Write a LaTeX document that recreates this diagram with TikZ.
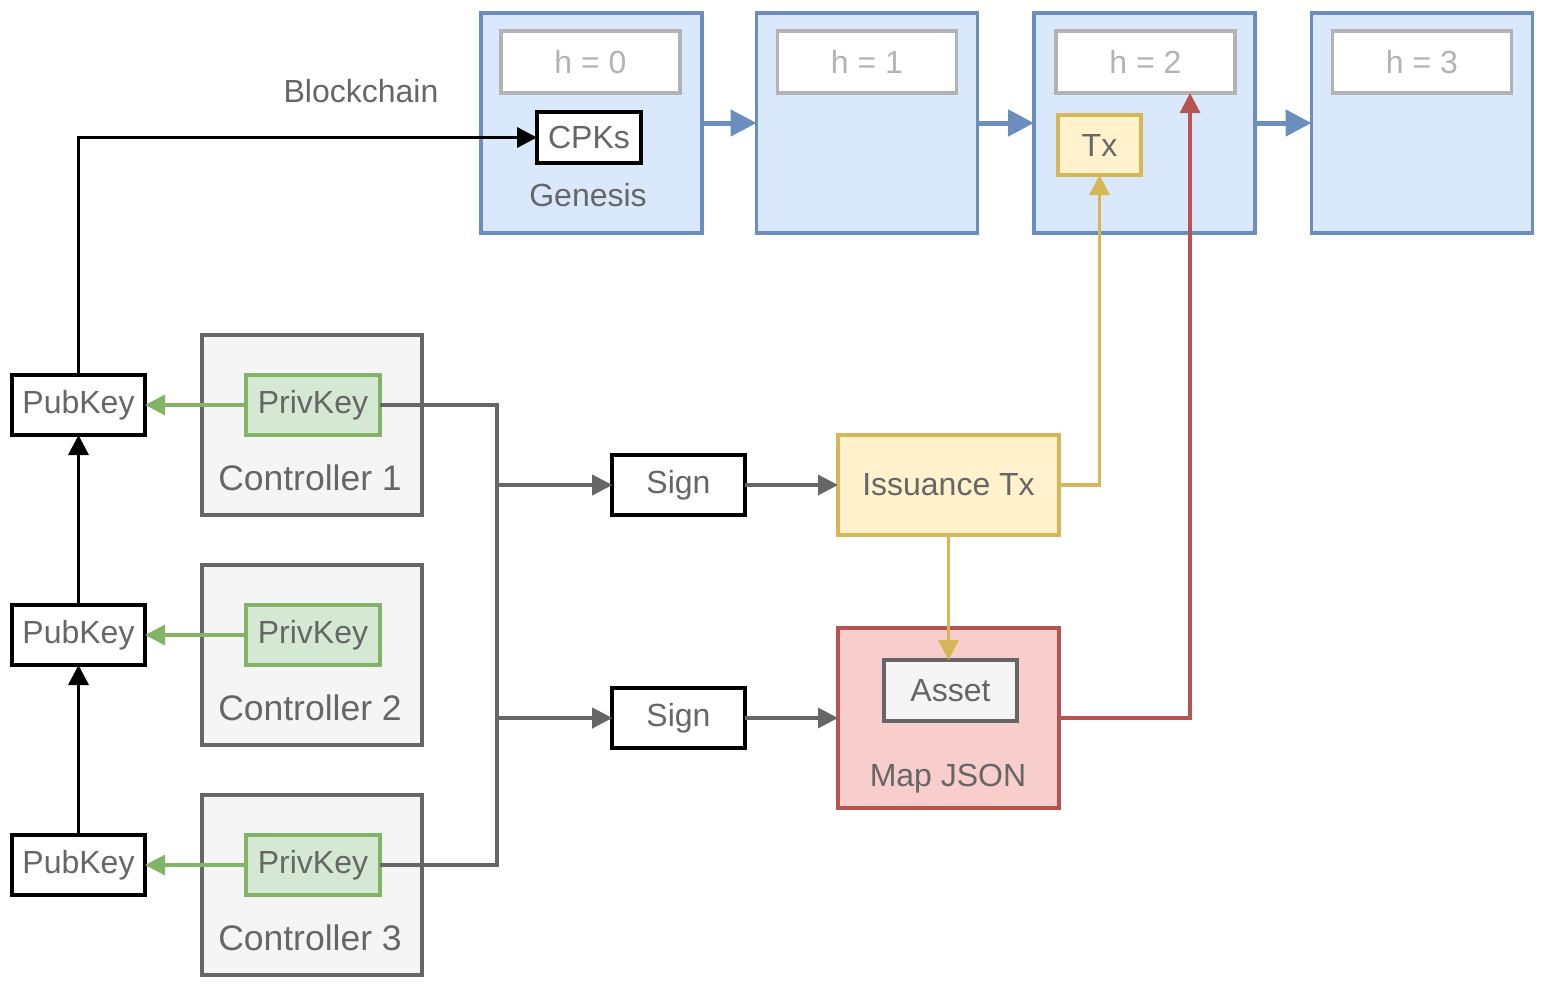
\documentclass[tikz,border=0pt]{standalone}
\usepackage{fontspec}
\setmainfont{Liberation Sans}
\usetikzlibrary{arrows.meta,calc}
\definecolor{txt}{HTML}{666666}
\definecolor{bfill}{HTML}{DAE8FC}\definecolor{bline}{HTML}{6C8EBF}
\definecolor{gfill}{HTML}{D5E8D4}\definecolor{gline}{HTML}{82B366}
\definecolor{yfill}{HTML}{FFF2CC}\definecolor{yline}{HTML}{D6B656}
\definecolor{rfill}{HTML}{F8CECC}\definecolor{rline}{HTML}{B85450}
\definecolor{sfill}{HTML}{F5F5F5}\definecolor{sline}{HTML}{666666}
\definecolor{hline}{HTML}{B3B3B3}
\tikzset{
  base/.style={draw,line width=3.5pt,inner sep=0pt,outer sep=0pt,text=txt,
    font=\fontsize{32}{38}\selectfont},
  block/.style={base,fill=bfill,draw=bline,minimum width=221pt,minimum height=220pt},
  hbox/.style={base,fill=white,draw=hline,text=hline,minimum width=179pt,minimum height=62pt},
  whitebox/.style={base,fill=white,draw=black,minimum width=133pt,minimum height=60pt},
  ctrl/.style={base,fill=sfill,draw=sline,minimum width=220pt,minimum height=180pt},
  priv/.style={base,fill=gfill,draw=gline,minimum width=134pt,minimum height=60pt},
  lbl/.style={inner sep=0pt,text=txt,font=\fontsize{32}{38}\selectfont},
  clbl/.style={inner sep=0pt,text=txt,font=\fontsize{35.5}{42}\selectfont},
  blkarrow/.style={line width=3.5pt,draw=black,-{Triangle[length=20pt,width=20pt]}},
  bluearrow/.style={line width=5pt,draw=bline,-{Triangle[length=26pt,width=26pt]}},
  greenarrow/.style={line width=3.2pt,draw=gline,-{Triangle[length=20pt,width=20pt]}},
  greyarrow/.style={line width=3.5pt,draw=sline,-{Triangle[length=20pt,width=20pt]}},
  yarrow/.style={line width=3.2pt,draw=yline,-{Triangle[length=20pt,width=20pt]}},
  rarrow/.style={line width=3.2pt,draw=rline,-{Triangle[length=20pt,width=20pt]}},
}
\begin{document}
\begin{tikzpicture}[x=1pt,y=-1pt]
\useasboundingbox (0,0) rectangle (1544,986);
% blockchain blocks
\node[block] (blk0) at (591.5,123) {};
\node[block] (blk1) at (867,123) {};
\node[block] (blk2) at (1144.5,123) {};
\node[block] (blk3) at (1422,123) {};
\node[hbox] (h0) at (590.5,62) {h = 0};
\node[hbox] (h1) at (867,62) {h = 1};
\node[hbox] (h2) at (1145.5,62) {h = 2};
\node[hbox] (h3) at (1422,62) {h = 3};
\node[whitebox,minimum width=104pt,minimum height=51pt] (cpks) at (589,137.5) {CPKs};
\node[lbl] (gen) at (588,195) {Genesis};
\node[base,fill=yfill,draw=yline,minimum width=83pt,minimum height=60pt] (tx) at (1099.5,145) {Tx};
\node[lbl] (bc) at (361,91) {Blockchain};
\draw[bluearrow] (blk0.east) -- (blk1.west);
\draw[bluearrow] (blk1.east) -- (blk2.west);
\draw[bluearrow] (blk2.east) -- (blk3.west);
% controllers
\foreach \i/\y in {1/425,2/655,3/885}{
  \node[ctrl] (ctrl\i) at (312,\y) {};
}
\foreach \i/\y in {1/405,2/635,3/865}{
  \node[whitebox] (pub\i) at (78.5,\y) {PubKey};
  \node[priv] (priv\i) at (313,\y) {PrivKey};
}
\node[clbl] (cl1) at (310,478) {Controller 1};
\node[clbl] (cl2) at (310,708) {Controller 2};
\node[clbl] (cl3) at (310,938) {Controller 3};
\foreach \i in {1,2,3}{
  \draw[greenarrow] (priv\i.west) -- (pub\i.east);
}
\draw[blkarrow] (pub3.north) -- (pub2.south);
\draw[blkarrow] (pub2.north) -- (pub1.south);
\draw[blkarrow] (pub1.north) |- (cpks.west);
% signing
\node[whitebox] (sign1) at (678.5,485) {Sign};
\node[whitebox] (sign2) at (678.5,718) {Sign};
\node[base,fill=yfill,draw=yline,minimum width=221pt,minimum height=100pt] (iss) at (948.5,485) {Issuance Tx};
\node[base,fill=rfill,draw=rline,minimum width=221pt,minimum height=180pt] (map) at (948.5,718) {};
\node[lbl] (maplbl) at (948,779) {Map JSON};
\node[base,fill=sfill,draw=sline,minimum width=133pt,minimum height=61pt] (asset) at (950.5,690.5) {Asset};
\draw[greyarrow] (priv1.east) -- ++(117,0) |- (sign1.west);
\draw[greyarrow] (priv1.east) -- ++(117,0) |- (sign2.west);
\draw[greyarrow] (priv3.east) -- ++(117,0) |- (sign1.west);
\draw[greyarrow] (priv3.east) -- ++(117,0) |- (sign2.west);
\draw[greyarrow] (sign1.east) -- (iss.west);
\draw[greyarrow] (sign2.east) -- (map.west);
\draw[yarrow] (iss.south) -- (iss.south |- asset.north);
\draw[yarrow] (iss.east) -| (tx.south);
\draw[rarrow] (map.east) -| ($(h2.south)+(44.5,0)$);
\end{tikzpicture}
\end{document}
